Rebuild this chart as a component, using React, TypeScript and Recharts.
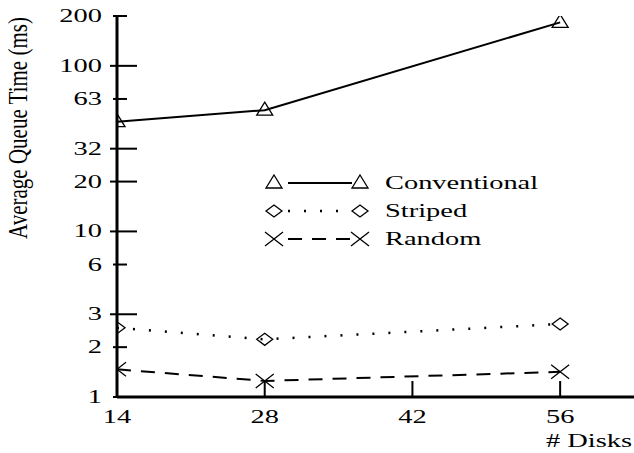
import { LineChart, Line, XAxis, YAxis, Legend } from 'recharts';

const disks = [14, 28, 56];
const conventional = [46, 54, 183];
const striped = [2.62, 2.23, 2.76];
const random = [1.47, 1.25, 1.42];

const xTicks = [14, 28, 42, 56];
const yTicks = [1, 2, 3.16, 6.31, 10, 20, 31.6, 63.1, 100, 200];
const yTickLabels = ['1', '2', '3', '6', '10', '20', '32', '63', '100', '200'];
const longYTicks = ['3', '10', '20', '32', '100'];
const seriesNames = ['Conventional', 'Striped', 'Random'];

const data = disks.map((d, i) => ({
  disks: d,
  conventional: conventional[i],
  striped: striped[i],
  random: random[i],
}));

const FONT = '"Liberation Serif", "DejaVu Serif", serif';
const SX = 1.58; // the figure is stretched sideways

function Stretched({ x, y, anchor, children, size = 18 }: any) {
  return (
    <text
      transform={`translate(${x},${y}) scale(${SX},1)`}
      textAnchor={anchor}
      fontFamily={FONT}
      fontSize={size}
      fill="#000"
    >
      {children}
    </text>
  );
}

function triangle(cx: number, cy: number) {
  return <path d={`M${cx},${cy - 8}L${cx + 8},${cy + 5}L${cx - 8},${cy + 5}Z`} fill="none" stroke="#000" strokeWidth={1.3} strokeDasharray="none" />;
}
function diamond(cx: number, cy: number) {
  return <path d={`M${cx - 8},${cy}L${cx},${cy - 6}L${cx + 8},${cy}L${cx},${cy + 6}Z`} fill="none" stroke="#000" strokeWidth={1.3} strokeDasharray="none" />;
}
function cross(cx: number, cy: number) {
  return <path d={`M${cx - 9},${cy - 7}L${cx + 9},${cy + 7}M${cx - 9},${cy + 7}L${cx + 9},${cy - 7}`} fill="none" stroke="#000" strokeWidth={1.3} strokeDasharray="none" />;
}

const markers = [triangle, diamond, cross];
const dashes = ['none', '2 14', '14 10'];

const dotOf = (shape: (cx: number, cy: number) => any) => (props: any) => {
  const { cx, cy, index } = props;
  if (cx == null || cy == null) return <g key={index} />;
  return <g key={index}>{shape(cx, cy)}</g>;
};

function YTick({ x, y, payload }: any) {
  const i = yTicks.indexOf(payload.value);
  const label = yTickLabels[i] ?? String(Math.round(payload.value));
  const long = longYTicks.includes(label);
  return (
    <g>
      <line x1={x - (long ? 7 : 4)} x2={x + (long ? 20 : 10)} y1={y} y2={y} stroke="#000" strokeWidth={2} />
      <Stretched x={x - 15} y={y + 6} anchor="end">{label}</Stretched>
    </g>
  );
}

function XTick({ x, y, payload }: any) {
  return (
    <g>
      <line x1={x} x2={x} y1={y} y2={y - 16} stroke="#000" strokeWidth={2} />
      <Stretched x={x} y={y + 26} anchor="middle">{payload.value}</Stretched>
    </g>
  );
}

function YLabel() {
  return (
    <text
      transform={`translate(27,128) scale(1.25,1) rotate(-90)`}
      textAnchor="middle"
      fontFamily={FONT}
      fontSize={21}
      fill="#000"
    >
      Average Queue Time (ms)
    </text>
  );
}

function XLabel() {
  return <Stretched x={632} y={447} anchor="end">#&nbsp;Disks</Stretched>;
}

function LegendBox() {
  return (
    <svg width={300} height={90} style={{ display: 'block' }}>
      {seriesNames.map((name, i) => {
        const y = 18 + i * 28;
        return (
          <g key={name}>
            {markers[i](19, y)}
            <line x1={33} x2={97} y1={y} y2={y} stroke="#000" strokeWidth={i === 1 ? 2.5 : 2} strokeDasharray={dashes[i]} />
            {markers[i](105, y)}
            <Stretched x={130} y={y + 6} anchor="start">{name}</Stretched>
          </g>
        );
      })}
    </svg>
  );
}

export default function App() {
  return (
    <div style={{ position: 'absolute', left: 0, top: 0, background: '#fff' }}>
      <LineChart width={634} height={453} data={data} margin={{ top: 16, right: 0, left: 0, bottom: 0 }}>
        <XAxis
          dataKey="disks"
          type="number"
          domain={[14, 63]}
          ticks={xTicks}
          allowDataOverflow
          axisLine={{ stroke: '#000', strokeWidth: 3 }}
          tickLine={false}
          tickSize={0}
          tickMargin={0}
          height={56}
          tick={<XTick />}
          label={<XLabel />}
        />
        <YAxis
          scale="log"
          domain={[1, 200]}
          ticks={yTicks}
          allowDataOverflow
          interval={0}
          axisLine={{ stroke: '#000', strokeWidth: 3 }}
          tickLine={false}
          tickSize={0}
          tickMargin={0}
          width={117}
          tick={<YTick />}
          label={<YLabel />}
        />
        <Legend
          layout="horizontal"
          verticalAlign="middle"
          align="center"
          wrapperStyle={{ left: 255, top: 165, width: 300 }}
          content={() => <LegendBox />}
        />
        <Line dataKey="conventional" stroke="#000" strokeWidth={2} dot={dotOf(triangle)} isAnimationActive={false} />
        <Line dataKey="striped" stroke="#000" strokeWidth={2.5} strokeDasharray="2 14" dot={dotOf(diamond)} isAnimationActive={false} />
        <Line dataKey="random" stroke="#000" strokeWidth={2} strokeDasharray="14 10" dot={dotOf(cross)} isAnimationActive={false} />
      </LineChart>
    </div>
  );
}
